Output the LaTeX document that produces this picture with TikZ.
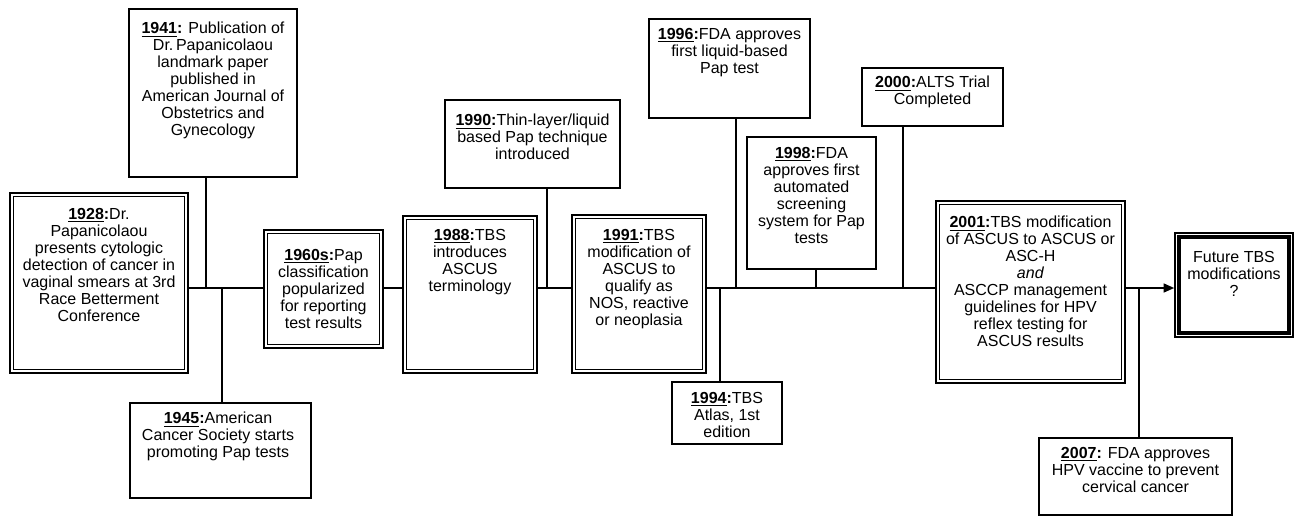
\documentclass[tikz,border=0pt]{standalone}
\usepackage{fontspec}
\setmainfont{Liberation Sans}
\usetikzlibrary{fit,arrows.meta}
\newcommand\yr[1]{\underline{\textbf{#1}}\textbf{:}}
\begin{document}
\begin{tikzpicture}[x=0.75pt,y=-0.75pt,
  sbox/.style={draw, line width=1.05pt, inner sep=0pt, minimum size=0pt},
  dbox/.style={draw, line width=1.8pt, inner sep=0pt, minimum size=0pt},
  fbox/.style={draw, line width=1pt, inner sep=0pt, minimum size=0pt},
  innerline/.style={line width=0.9pt},
  txt/.style={anchor=north, inner sep=0pt, align=center, font=\fontsize{12}{12.75}\selectfont},
  mainline/.style={line width=1.7pt},
  conn/.style={line width=1pt}]
\useasboundingbox (0,0) rectangle (1294,517);

% boxes
\node[dbox, fit={(10,193) (188,373)}] (b1928) {};
\node[sbox, fit={(129,9) (297,177)}] (b1941) {};
\node[sbox, fit={(130,403) (311,498)}] (b1945) {};
\node[dbox, fit={(264,230) (383,348)}] (b1960) {};
\node[dbox, fit={(403,216) (537,373)}] (b1988) {};
\node[sbox, fit={(445,100) (620,188)}] (b1990) {};
\node[dbox, fit={(572,215) (706,373)}] (b1991) {};
\node[sbox, fit={(672,382) (782,444)}] (b1994) {};
\node[sbox, fit={(649,19) (810,118)}] (b1996) {};
\node[sbox, fit={(747,137) (876,269)}] (b1998) {};
\node[sbox, fit={(862,68) (1003,126)}] (b2000) {};
\node[dbox, fit={(936,201) (1125,383)}] (b2001) {};
\node[fbox, fit={(1175,233) (1293,337)}] (bfut) {};
\node[sbox, fit={(1039,438) (1232,515)}] (b2007) {};

\foreach \n in {b1928,b1960,b1988,b1991,b2001}
  \draw[innerline] ([shift={(4.5,4.5)}]\n.north west) rectangle ([shift={(-4.5,-4.5)}]\n.south east);
\draw[line width=3pt] ([shift={(5,5)}]bfut.north west) rectangle ([shift={(-5,-5)}]bfut.south east);

% texts
\node[txt] (t1928) at (99,208) {\yr{1928}Dr.\\Papanicolaou\\presents cytologic\\detection of cancer in\\vaginal smears at 3rd\\Race Betterment\\Conference};
\node[txt] (t1941) at (213,22) {\yr{1941} Publication of\\Dr.\,Papanicolaou\\landmark paper\\published in\\American Journal of\\Obstetrics and\\Gynecology};
\node[txt] (t1945) at (218,412) {\yr{1945}American\\Cancer Society starts\\promoting Pap tests};
\node[txt] (t1960) at (323.5,249) {\yr{1960s}Pap\\classification\\popularized\\for reporting\\test results};
\node[txt] (t1988) at (470,229) {\yr{1988}TBS\\introduces\\ASCUS\\terminology};
\node[txt] (t1990) at (532.5,114) {\yr{1990}Thin-layer/liquid\\based Pap technique\\introduced};
\node[txt] (t1991) at (639,229) {\yr{1991}TBS\\modification of\\ASCUS to\\qualify as\\NOS, reactive\\or neoplasia};
\node[txt] (t1994) at (727,392) {\yr{1994}TBS\\Atlas, 1st\\edition};
\node[txt] (t1996) at (729.5,28) {\yr{1996}FDA approves\\first liquid-based\\Pap test};
\node[txt] (t1998) at (811.5,147) {\yr{1998}FDA\\approves first\\automated\\screening\\system for Pap\\tests};
\node[txt] (t2000) at (932.5,76) {\yr{2000}ALTS Trial\\Completed};
\node[txt] (t2001) at (1030.5,216) {\yr{2001}TBS modification\\of ASCUS to ASCUS or\\ASC-H\\\textit{and}\\ASCCP management\\guidelines for HPV\\reflex testing for\\ASCUS results};
\node[txt] (tfut) at (1234,251) {Future TBS\\modifications\\?};
\node[txt] (t2007) at (1135.5,447) {\yr{2007} FDA approves\\HPV vaccine to prevent\\cervical cancer};

% main timeline
\coordinate (m) at (0,288);
\draw[mainline] (b1928.east |- m) -- (b1960.west |- m);
\draw[mainline] (b1960.east |- m) -- (b1988.west |- m);
\draw[mainline] (b1988.east |- m) -- (b1991.west |- m);
\draw[mainline] (b1991.east |- m) -- (b2001.west |- m);
\draw[mainline,-{Triangle[length=8pt,width=6.5pt]}] (b2001.east |- m) -- (bfut.west |- m);

% connectors
\coordinate (j1941) at (206,288);
\coordinate (j1945) at (222,288);
\coordinate (j1990) at (547,288);
\coordinate (j1994) at (720,288);
\coordinate (j1996) at (736,288);
\coordinate (j1998) at (816,288);
\coordinate (j2000) at (903,288);
\coordinate (j2007) at (1139,288);
\draw[conn] (j1941 |- b1941.south) -- (j1941);
\draw[conn] (j1945) -- (j1945 |- b1945.north);
\draw[conn] (j1990 |- b1990.south) -- (j1990);
\draw[conn] (j1994) -- (j1994 |- b1994.north);
\draw[conn] (j1996 |- b1996.south) -- (j1996);
\draw[conn] (j1998 |- b1998.south) -- (j1998);
\draw[conn] (j2000 |- b2000.south) -- (j2000);
\draw[conn] (j2007) -- (j2007 |- b2007.north);
\end{tikzpicture}
\end{document}
